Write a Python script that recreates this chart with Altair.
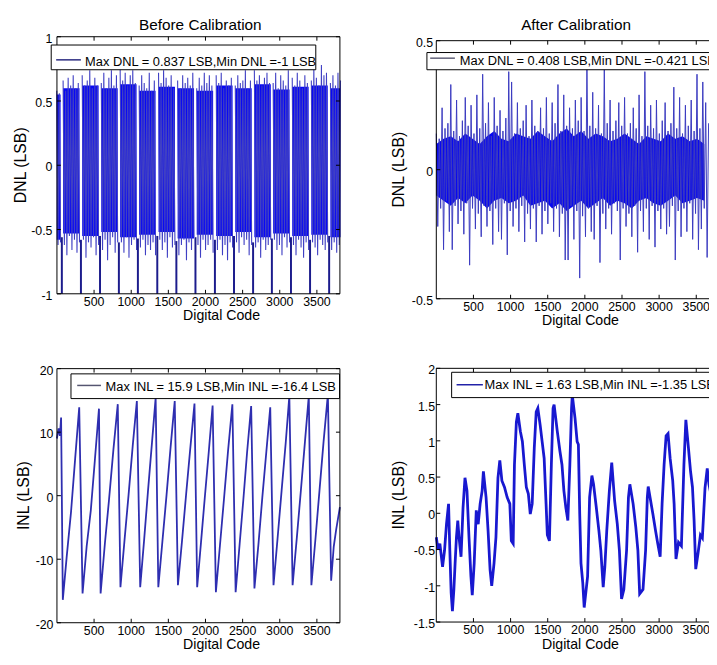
import altair as alt
import pandas as pd

FONT = "Liberation Sans, Arial, Helvetica, sans-serif"

# ---------------- data ----------------
x_ticks = [500, 1000, 1500, 2000, 2500, 3000, 3500]
x_tick_labels = ["500", "1000", "1500", "2000", "2500", "3000", "3500"]
x_domain = [0, 3810]

dnl_b_ticks = [-1, -0.5, 0, 0.5, 1]
dnl_b_tick_labels = ["-1", "-0.5", "0", "0.5", "1"]
dnl_a_ticks = [-0.5, 0, 0.5]
dnl_a_tick_labels = ["-0.5", "0", "0.5"]
inl_b_ticks = [-20, -10, 0, 10, 20]
inl_b_tick_labels = ["-20", "-10", "0", "10", "20"]
inl_a_ticks = [-1.5, -1, -0.5, 0, 0.5, 1, 1.5, 2]
inl_a_tick_labels = ["-1.5", "-1", "-0.5", "0", "0.5", "1", "1.5", "2"]

# Before calibration, DNL: missing-code stripes (DNL = -1) and the band between them
missing_code_centers = [66, 323, 580, 834, 1090, 1351, 1608, 1865, 2127, 2384, 2641, 2894, 3151, 3408, 3665]
missing_spike_top = [-0.56, -0.58, -0.55, -0.60, -0.57, -0.55, -0.59, -0.56, -0.58, -0.55, -0.60, -0.57, -0.56, -0.58, -0.55]
# dense core of the band, one pair per block (lead block, 14 full blocks, tail block)
dnl_before_core_hi = [0.55, 0.60, 0.62, 0.60, 0.63, 0.58, 0.61, 0.60, 0.58, 0.62, 0.60, 0.63, 0.59, 0.61, 0.62, 0.60]
dnl_before_core_lo = [-0.58, -0.53, -0.55, -0.52, -0.56, -0.54, -0.52, -0.57, -0.54, -0.55, -0.52, -0.56, -0.53, -0.55, -0.54, -0.56]
# extremes of the band (alternating high / low readings)
dnl_before_lead = [0.58, -0.62, 0.56, -0.60]
dnl_before_blocks = [
    [0.66, -0.62, 0.58, -0.70, 0.68, -0.55, 0.62, -0.66, 0.70, -0.58, 0.60, -0.68, 0.64, -0.60],
    [0.70, -0.58, 0.62, -0.72, 0.66, -0.60, 0.74, -0.64, 0.60, -0.56, 0.68, -0.70, 0.62, -0.62],
    [0.64, -0.66, 0.72, -0.58, 0.60, -0.74, 0.68, -0.62, 0.74, -0.56, 0.62, -0.68, 0.70, -0.60],
    [0.76, -0.60, 0.66, -0.68, 0.72, -0.56, 0.62, -0.72, 0.70, -0.62, 0.74, -0.58, 0.64, -0.66],
    [0.62, -0.64, 0.70, -0.58, 0.64, -0.70, 0.60, -0.62, 0.72, -0.66, 0.58, -0.60, 0.66, -0.70],
    [0.72, -0.58, 0.64, -0.66, 0.74, -0.60, 0.68, -0.72, 0.62, -0.56, 0.70, -0.64, 0.60, -0.62],
    [0.66, -0.70, 0.60, -0.62, 0.70, -0.58, 0.64, -0.74, 0.68, -0.60, 0.62, -0.66, 0.72, -0.56],
    [0.60, -0.62, 0.68, -0.72, 0.62, -0.58, 0.72, -0.66, 0.64, -0.62, 0.70, -0.58, 0.62, -0.68],
    [0.70, -0.66, 0.64, -0.58, 0.72, -0.70, 0.60, -0.62, 0.66, -0.74, 0.62, -0.60, 0.68, -0.64],
    [0.62, -0.60, 0.70, -0.68, 0.64, -0.56, 0.66, -0.62, 0.74, -0.58, 0.60, -0.70, 0.66, -0.62],
    [0.74, -0.64, 0.66, -0.60, 0.70, -0.72, 0.62, -0.58, 0.68, -0.66, 0.72, -0.62, 0.64, -0.58],
    [0.64, -0.58, 0.72, -0.66, 0.60, -0.62, 0.70, -0.70, 0.66, -0.56, 0.62, -0.64, 0.74, -0.60],
    [0.68, -0.62, 0.62, -0.70, 0.72, -0.58, 0.66, -0.64, 0.60, -0.72, 0.70, -0.60, 0.64, -0.66],
    [0.66, -0.60, 0.76, -0.64, 0.68, -0.70, 0.62, -0.58, 0.78, -0.62, 0.70, -0.66, 0.72, -0.60],
]
dnl_before_tail = [0.64, -0.66, 0.70, -0.60, 0.62, -0.68, 0.72, -0.62, 0.66]

# After calibration, DNL: dense core (one reading every ~97.5 codes) and spikes (every ~19.5 codes)
dnl_after_core_step = 97.5
dnl_after_core_hi = [0.10, 0.12, 0.13, 0.11, 0.14, 0.12, 0.10, 0.13, 0.15, 0.12,
                     0.11, 0.14, 0.13, 0.12, 0.15, 0.13, 0.11, 0.14, 0.16, 0.13,
                     0.15, 0.12, 0.14, 0.13, 0.11, 0.12, 0.14, 0.12, 0.10, 0.13,
                     0.12, 0.11, 0.14, 0.12, 0.13, 0.11, 0.12, 0.10]
dnl_after_core_lo = [-0.10, -0.12, -0.14, -0.11, -0.13, -0.10, -0.12, -0.15, -0.12, -0.11,
                     -0.13, -0.12, -0.10, -0.14, -0.13, -0.12, -0.15, -0.13, -0.16, -0.14,
                     -0.12, -0.15, -0.13, -0.11, -0.14, -0.12, -0.13, -0.15, -0.12, -0.11,
                     -0.13, -0.14, -0.12, -0.10, -0.13, -0.12, -0.11, -0.12]
dnl_after_step = 19.5
dnl_after_vals = [
    0.14, -0.22, 0.12, -0.15, 0.24, -0.31, 0.16, -0.12, 0.18, -0.24,
    0.33, -0.31, 0.15, -0.14, 0.27, -0.21, 0.13, -0.16, 0.19, -0.25,
    0.28, -0.13, 0.17, -0.37, 0.25, -0.15, 0.14, -0.23, 0.29, -0.17,
    0.16, -0.26, 0.37, -0.14, 0.18, -0.22, 0.26, -0.16, 0.13, -0.29,
    0.28, -0.15, 0.17, -0.24, 0.23, -0.27, 0.15, -0.13, 0.20, -0.33,
    0.38, -0.16, 0.34, -0.22, 0.14, -0.15, 0.26, -0.24, 0.16, -0.14,
    0.19, -0.28, 0.25, -0.17, 0.13, -0.23, 0.27, -0.15, 0.17, -0.28,
    0.15, -0.14, 0.24, -0.25, 0.16, -0.16, 0.28, -0.21, 0.14, -0.13,
    0.26, -0.24, 0.18, -0.15, 0.33, -0.26, 0.15, -0.17, 0.29, -0.35,
    0.17, -0.35, 0.24, -0.14, 0.16, -0.27, 0.27, -0.16, 0.19, -0.42,
    0.28, -0.18, 0.15, -0.26, 0.41, -0.15, 0.17, -0.24, 0.30, -0.27,
    0.16, -0.14, 0.25, -0.36, 0.14, -0.17, 0.39, -0.23, 0.18, -0.15,
    0.27, -0.25, 0.15, -0.13, 0.19, -0.16, 0.26, -0.35, 0.17, -0.15,
    0.28, -0.22, 0.14, -0.17, 0.18, -0.26, 0.24, -0.14, 0.16, -0.32,
    0.29, -0.16, 0.13, -0.24, 0.38, -0.15, 0.17, -0.27, 0.25, -0.14,
    0.16, -0.30, 0.27, -0.16, 0.14, -0.23, 0.19, -0.15, 0.26, -0.25,
    0.15, -0.22, 0.18, -0.14, 0.32, -0.35, 0.16, -0.16, 0.28, -0.26,
    0.14, -0.15, 0.25, -0.24, 0.17, -0.13, 0.27, -0.27, 0.15, -0.17,
    0.37, -0.31, 0.16, -0.23, 0.34, -0.15, 0.26, -0.34, 0.18,
]

# Before calibration, INL: sawtooth corners
inl_before_code = [0, 22, 40, 56,
                   79, 130, 190, 245, 300,
                   345, 400, 456, 510, 566,
                   588, 645, 700, 760, 819,
                   855, 910, 965, 1020, 1076,
                   1121, 1175, 1225, 1280, 1329,
                   1365, 1420, 1475, 1530, 1586,
                   1629, 1685, 1740, 1795, 1852,
                   1888, 1940, 1990, 2045, 2096,
                   2140, 2195, 2250, 2305, 2362,
                   2406, 2460, 2510, 2560, 2615,
                   2659, 2715, 2765, 2820, 2872,
                   2916, 2970, 3025, 3080, 3129,
                   3173, 3230, 3285, 3340, 3391,
                   3426, 3480, 3535, 3590, 3648,
                   3692, 3727, 3760, 3810]
inl_before_val = [9.0, 10.6, 9.4, 12.3,
                  -16.4, -9.8, -2.5, 5.8, 13.9,
                  -15.4, -8.0, -2.3, 5.5, 13.7,
                  -15.4, -7.6, -0.8, 7.2, 14.4,
                  -14.4, -7.0, 0.2, 7.8, 14.9,
                  -14.4, -6.8, 0.6, 8.4, 15.4,
                  -14.4, -7.2, 0.0, 7.6, 14.9,
                  -14.1, -7.0, 0.3, 7.4, 14.5,
                  -14.4, -7.3, -0.4, 7.0, 14.2,
                  -15.2, -7.8, -0.4, 7.2, 14.4,
                  -15.2, -7.6, -0.6, 6.8, 14.1,
                  -14.6, -7.4, -0.3, 7.0, 13.9,
                  -14.1, -6.8, 0.8, 8.3, 15.7,
                  -14.1, -6.6, 0.9, 8.6, 15.7,
                  -14.1, -6.9, 0.8, 8.5, 15.9,
                  -13.4, -8.0, -5.3, -1.8]

# After calibration, INL
inl_after_code = [0, 22, 48, 84, 111, 137, 165, 182, 200, 217,
                  236, 253, 271, 289, 306, 333, 360, 386, 413, 440,
                  466, 484, 510, 538, 564, 590, 617, 634, 670, 697,
                  724, 746, 777, 803, 830, 855, 883, 918, 954, 990,
                  1010, 1035, 1052, 1078, 1098, 1132, 1159, 1185, 1212, 1239,
                  1265, 1291, 1319, 1345, 1367, 1398, 1425, 1452, 1478, 1495,
                  1523, 1549, 1572, 1586, 1629, 1664, 1692, 1718, 1744, 1771,
                  1798, 1821, 1831, 1868, 1896, 1913, 1931, 1948, 1972, 1991,
                  2037, 2064, 2095, 2117, 2153, 2189, 2215, 2247, 2269, 2295,
                  2330, 2362, 2401, 2437, 2465, 2494, 2525, 2562, 2587, 2606,
                  2650, 2686, 2714, 2738, 2783, 2818, 2841, 2853, 2916, 2952,
                  2982, 3014, 3040, 3067, 3094, 3120, 3148, 3183, 3202, 3227,
                  3261, 3300, 3334, 3360, 3395, 3423, 3449, 3471, 3493, 3524,
                  3556, 3582, 3618, 3648, 3671, 3690]
inl_after_val = [-0.33, -0.50, -0.42, -0.74, -0.51, -0.15, 0.13, -0.51, -1.10, -1.35,
                 -1.06, -0.69, -0.33, -0.10, -0.33, -0.60, 0.08, 0.49, 0.31, -0.33,
                 -0.87, -1.13, -0.69, 0.04, -0.15, 0.13, 0.31, 0.58, 0.22, -0.24,
                 -0.78, -1.00, -0.69, -0.33, 0.49, 0.73, 0.45, 0.36, 0.22, 0.13,
                 -0.38, -0.42, 0.67, 1.26, 1.38, 1.13, 0.99, 0.67, 0.36, 0.27,
                 -0.01, 0.13, 0.90, 1.40, 1.45, 1.22, 0.99, 0.76, 0.13, -0.30,
                 -0.38, 0.67, 1.45, 1.50, 1.13, 0.86, 0.67, 0.31, 0.08, -0.10,
                 0.67, 1.45, 1.63, 1.31, 0.99, 0.95, -0.01, -0.69, -0.96, -1.30,
                 -0.87, 0.22, 0.52, 0.40, 0.09, -0.24, -0.51, -1.02, -0.74, -0.24,
                 0.31, 0.70, 0.17, -0.15, -0.51, -1.18, -1.05, -0.51, 0.22, 0.40,
                 0.13, -0.19, -0.51, -1.11, -1.05, -0.51, 0.22, 0.37, -0.01, -0.24,
                 -0.42, -0.60, 0.13, 0.67, 1.07, 1.10, 0.76, 0.45, 0.13, -0.63,
                 -0.40, -0.45, 0.67, 1.29, 0.90, 0.58, 0.36, -0.10, -0.77, -0.55,
                 -0.30, -0.34, 0.35, 0.62, 0.40, 0.30]

panel_titles = ["Before Calibration", "After Calibration"]
x_title = "Digital Code"
y_titles = ["DNL (LSB)", "DNL (LSB)", "INL (LSB)", "INL (LSB)"]
legend_texts = [
    "Max DNL = 0.837 LSB,Min DNL =-1 LSB",
    "Max DNL = 0.408 LSB,Min DNL =-0.421 LSB",
    "Max INL = 15.9 LSB,Min INL =-16.4 LSB",
    "Max INL = 1.63 LSB,Min INL =-1.35 LSB",
]

# ---------------- frames ----------------
STEP_B = 17
line_rows, core_rows = [], []
c0 = missing_code_centers[0]
n0 = len(dnl_before_lead)
lead_codes = [c0 - STEP_B - STEP_B * (n0 - 1 - j) for j in range(n0)]
for code, v in zip(lead_codes, dnl_before_lead):
    line_rows.append((code, v, -1))
core_rows += [(lead_codes[0], dnl_before_core_hi[0], dnl_before_core_lo[0], -1),
              (lead_codes[-1], dnl_before_core_hi[0], dnl_before_core_lo[0], -1)]
for k, blk in enumerate(dnl_before_blocks + [dnl_before_tail]):
    c = missing_code_centers[k]
    codes = [c + STEP_B + STEP_B * j for j in range(len(blk))]
    for code, v in zip(codes, blk):
        line_rows.append((code, v, k))
    core_rows += [(codes[0], dnl_before_core_hi[k + 1], dnl_before_core_lo[k + 1], k),
                  (codes[-1], dnl_before_core_hi[k + 1], dnl_before_core_lo[k + 1], k)]
df_dnl_b = pd.DataFrame(line_rows, columns=["code", "val", "blk"])
df_dnl_b_core = pd.DataFrame(core_rows, columns=["code", "val", "lo", "blk"])
df_stripes = pd.DataFrame({"code": missing_code_centers, "val": missing_spike_top,
                           "lo": [-1.0] * len(missing_code_centers)})
df_dnl_a = pd.DataFrame({"code": [i * dnl_after_step for i in range(len(dnl_after_vals))],
                         "val": dnl_after_vals})
df_dnl_a_core = pd.DataFrame({"code": [i * dnl_after_core_step for i in range(len(dnl_after_core_hi))],
                              "val": dnl_after_core_hi, "lo": dnl_after_core_lo})
df_inl_b = pd.DataFrame({"code": inl_before_code, "val": inl_before_val})
df_inl_a = pd.DataFrame({"code": inl_after_code, "val": inl_after_val})

ONE = pd.DataFrame({"k": [0]})

# ---------------- layout (pixels inside the 709 x 657 canvas) ----------------
CANVAS_W, CANVAS_H = 709, 657
PANELS = [
    dict(x0=49.5, x1=335.7, y0=25.3, y1=285.3, ydom=[-1, 1], ylab_x=45, ytitle=(13, 155.3),
         xlab_y=293.3, xtitle=(216, 308.3), title=(194.5, 19.0), right_ticks=True,
         legend=dict(box=(43.7, 33.7, 311.3, 58.7), line=(48.7, 73.7, 48.7), text=(78, 54.8),
                     color="#2a2a80")),
    dict(x0=433.2, x1=719.4, y0=29.3, y1=290.3, ydom=[-0.5, 0.5], ylab_x=430, ytitle=(396, 159.8),
         xlab_y=298.3, xtitle=(579, 313.3), title=(574.5, 19.0), right_ticks=False,
         legend=dict(box=(423.7, 41.3, 760, 58.7), line=(427, 452, 47), text=(457, 54),
                     color="#606078")),
    dict(x0=49.5, x1=335.7, y0=361.0, y1=618.0, ydom=[-20, 20], ylab_x=46, ytitle=(16, 489.5),
         xlab_y=626.0, xtitle=(216, 641.0), title=None, right_ticks=True,
         legend=dict(box=(63.7, 366.3, 335.3, 391.3), line=(70, 94, 378), text=(98.7, 383.2),
                     color="#555570")),
    dict(x0=433.2, x1=719.4, y0=360.7, y1=617.3, ydom=[-1.5, 2], ylab_x=432, ytitle=(396, 489),
         xlab_y=625.3, xtitle=(579, 640.3), title=None, right_ticks=False,
         legend=dict(box=(448.7, 364.7, 760, 390.3), line=(453.7, 480.3, 377.3), text=(482, 381.5),
                     color="#2222a8")),
]
Y_TICKS = [(dnl_b_ticks, dnl_b_tick_labels), (dnl_a_ticks, dnl_a_tick_labels),
           (inl_b_ticks, inl_b_tick_labels), (inl_a_ticks, inl_a_tick_labels)]


def txt(df, **kw):
    return alt.Chart(df).mark_text(font=FONT, color="black", **kw)


def panel(i, data_layers):
    p = PANELS[i]
    X = alt.X("code:Q", axis=None,
              scale=alt.Scale(domain=x_domain, range=[p["x0"], p["x1"]], nice=False, zero=False))
    Y = alt.Y("val:Q", axis=None, stack=False,
              scale=alt.Scale(domain=p["ydom"], range=[p["y1"], p["y0"]], nice=False, zero=False))
    layers = data_layers(X, Y)

    # frame
    layers.append(alt.Chart(ONE).mark_rect(fillOpacity=0, stroke="black", strokeWidth=1).encode(
        x=alt.value(p["x0"]), x2=alt.value(p["x1"]), y=alt.value(p["y0"]), y2=alt.value(p["y1"])))
    # ticks (inward)
    yv, yl = Y_TICKS[i]
    xt = pd.DataFrame({"code": x_ticks, "label": x_tick_labels})
    yt = pd.DataFrame({"val": yv, "label": yl})
    layers.append(alt.Chart(xt).mark_rule(color="black", strokeWidth=1).encode(
        x=X, y=alt.value(p["y1"]), y2=alt.value(p["y1"] - 4)))
    layers.append(alt.Chart(xt).mark_rule(color="black", strokeWidth=1).encode(
        x=X, y=alt.value(p["y0"]), y2=alt.value(p["y0"] + 4)))
    layers.append(alt.Chart(yt).mark_rule(color="black", strokeWidth=1).encode(
        y=Y, x=alt.value(p["x0"]), x2=alt.value(p["x0"] + 4)))
    if p["right_ticks"]:
        layers.append(alt.Chart(yt).mark_rule(color="black", strokeWidth=1).encode(
            y=Y, x=alt.value(p["x1"]), x2=alt.value(p["x1"] - 4)))
    # tick labels
    layers.append(txt(xt, fontSize=12.5, align="center", baseline="middle").encode(
        x=X, y=alt.value(p["xlab_y"]), text="label:N"))
    layers.append(txt(yt, fontSize=12.5, align="right", baseline="middle", dy=2).encode(
        x=alt.value(p["ylab_x"]), y=Y, text="label:N"))
    # axis titles
    layers.append(txt(pd.DataFrame({"t": [x_title]}), fontSize=14.3, align="center",
                      baseline="middle").encode(
        x=alt.value(p["xtitle"][0]), y=alt.value(p["xtitle"][1]), text="t:N"))
    layers.append(txt(pd.DataFrame({"t": [y_titles[i]]}), fontSize=16, align="center",
                      baseline="middle", angle=270).encode(
        x=alt.value(p["ytitle"][0]), y=alt.value(p["ytitle"][1]), text="t:N"))
    # legend
    lg = p["legend"]
    bx1, by1, bx2, by2 = lg["box"]
    layers.append(alt.Chart(ONE).mark_rect(fill="white", stroke="black", strokeWidth=1).encode(
        x=alt.value(bx1), x2=alt.value(bx2), y=alt.value(by1), y2=alt.value(by2)))
    lx1, lx2, ly = lg["line"]
    layers.append(alt.Chart(ONE).mark_rule(color=lg["color"], strokeWidth=1.5).encode(
        x=alt.value(lx1), x2=alt.value(lx2), y=alt.value(ly)))
    layers.append(txt(pd.DataFrame({"t": [legend_texts[i]]}), fontSize=13, align="left",
                      baseline="alphabetic").encode(
        x=alt.value(lg["text"][0]), y=alt.value(lg["text"][1]), text="t:N"))
    # panel title
    if p["title"] is not None:
        layers.append(txt(pd.DataFrame({"t": [panel_titles[i]]}), fontSize=15.5,
                          align="center", baseline="alphabetic").encode(
            x=alt.value(p["title"][0]), y=alt.value(p["title"][1]), text="t:N"))
    return alt.layer(*layers)


def tl_layers(X, Y):
    return [
        alt.Chart(df_dnl_b_core).mark_area(color="#0808f4", opacity=1, clip=True).encode(
            x=X, y=Y, y2=alt.Y2("lo"), detail="blk:N"),
        alt.Chart(df_dnl_b).mark_line(color="#4040c4", strokeWidth=1.1, clip=True).encode(
            x=X, y=Y, detail="blk:N", order="code:Q"),
        alt.Chart(df_stripes).mark_rule(color="#1c1c8c", strokeWidth=2).encode(
            x=X, y=Y, y2=alt.Y2("lo")),
    ]


def tr_layers(X, Y):
    return [
        alt.Chart(df_dnl_a_core).mark_area(color="#0808f0", opacity=1, clip=True).encode(
            x=X, y=Y, y2=alt.Y2("lo")),
        alt.Chart(df_dnl_a).mark_line(color="#3c3cc0", strokeWidth=1.0, clip=True).encode(
            x=X, y=Y, order="code:Q"),
    ]


def bl_layers(X, Y):
    return [alt.Chart(df_inl_b).mark_line(color="#2e2eb0", strokeWidth=1.8, clip=True).encode(
        x=X, y=Y, order="code:Q")]


def br_layers(X, Y):
    return [alt.Chart(df_inl_a).mark_line(color="#1818d0", strokeWidth=2.8, clip=True).encode(
        x=X, y=Y, order="code:Q")]


chart = alt.layer(
    panel(0, tl_layers), panel(1, tr_layers), panel(2, bl_layers), panel(3, br_layers)
).resolve_scale(x="independent", y="independent").properties(
    width=CANVAS_W, height=CANVAS_H, padding=0, background="white",
    autosize=alt.AutoSizeParams(type="none"),
).configure_view(stroke="transparent")

chart.save("out.html", embed_options={"renderer": "svg", "actions": False})
